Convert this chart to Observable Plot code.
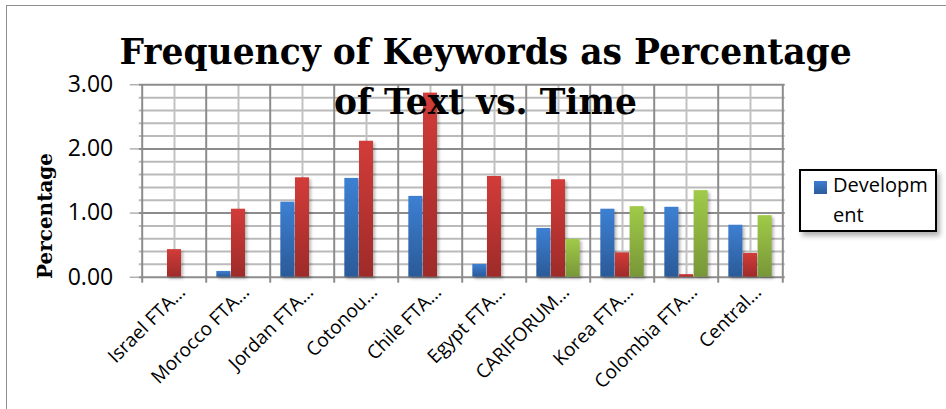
<!DOCTYPE html>
<html><head><meta charset="utf-8">
<script src="https://cdn.jsdelivr.net/npm/d3@7"></script>
<script src="https://cdn.jsdelivr.net/npm/@observablehq/plot@0.6"></script>
<style>
body{margin:0;background:#fff;}
#wrap{position:relative;width:946px;height:409px;overflow:hidden;background:#fff;}
#border{position:absolute;left:6px;top:5px;width:980px;height:440px;border:1.5px solid #8e8e8e;box-sizing:border-box;}
#chart{position:absolute;left:0;top:0;}
.title{position:absolute;left:0;width:971px;text-align:center;font-family:"DejaVu Serif";font-weight:bold;font-size:34.5px;white-space:nowrap;line-height:1;}
#legend{position:absolute;left:799px;top:169px;width:138px;height:63px;border:2px solid #000;box-sizing:border-box;background:#fff;box-shadow:3px 4px 5px rgba(0,0,0,0.3);}
#legend .sw{position:absolute;left:13px;top:10px;width:13px;height:13px;background:linear-gradient(#3c7dd0,#2c5c9c);}
#legend .lt{position:absolute;left:32px;top:-1px;width:100px;font-family:"Open Sans";font-size:20px;line-height:30px;word-break:break-all;color:#000;}
g[aria-label="bar"] rect{filter:drop-shadow(2px 2px 1.5px rgba(0,0,0,0.28));}
</style></head>
<body>
<svg width="0" height="0" style="position:absolute">
<defs>
<linearGradient id="gBlue" x1="0" y1="0" x2="0" y2="1"><stop offset="0" stop-color="#3d80d3"/><stop offset="1" stop-color="#2b5a98"/></linearGradient>
<linearGradient id="gRed" x1="0" y1="0" x2="0" y2="1"><stop offset="0" stop-color="#d23c39"/><stop offset="1" stop-color="#9e2b29"/></linearGradient>
<linearGradient id="gGreen" x1="0" y1="0" x2="0" y2="1"><stop offset="0" stop-color="#a0cb48"/><stop offset="1" stop-color="#789638"/></linearGradient>
</defs></svg>
<div id="wrap">
<div id="border"></div>
<div id="chart"></div>
<div class="title" style="top:35px">Frequency of Keywords as Percentage</div>
<div class="title" style="top:85px">of Text vs. Time</div>
<div id="legend"><div class="sw"></div><div class="lt" id="legtext"></div></div>
</div>
<script>
const categories = ["Israel FTA…","Morocco FTA…","Jordan FTA…","Cotonou…","Chile FTA…","Egypt FTA…","CARIFORUM…","Korea FTA…","Colombia FTA…","Central…"];
const seriesNames = ["Development","Series 2","Series 3"];
const development = [0, 0.09, 1.17, 1.54, 1.26, 0.20, 0.76, 1.06, 1.09, 0.81];
const series2 = [0.43, 1.06, 1.55, 2.12, 2.87, 1.57, 1.52, 0.38, 0.04, 0.37];
const series3 = [null, null, null, null, null, null, 0.59, 1.10, 1.35, 0.96];
const yTicks = [0, 1, 2, 3];
const yMinor = [0.2, 0.4, 0.6, 0.8, 1.2, 1.4, 1.6, 1.8, 2.2, 2.4, 2.6, 2.8];
const fills = ["url(#gBlue)", "url(#gRed)", "url(#gGreen)"];

const W = 946, H = 409;
const mL = 138.7, mR = 161.3, mT = 84.3, mB = 132.3;
const bw = (W - mL - mR) / categories.length;
const groupW = bw * 0.68;
const barW = groupW / 3;
const outer = (bw - groupW) / 2;

const allSeries = [development, series2, series3];
const barMarks = allSeries.map((vals, s) => {
  const rows = categories.map((c, i) => ({category: c, series: seriesNames[s], value: vals[i]})).filter(d => d.value != null);
  const left = outer + s * barW;
  return Plot.barY(rows, {x: "category", y: "value", fill: fills[s], insetLeft: left, insetRight: bw - left - barW});
});

document.getElementById("legtext").textContent = seriesNames[0];

const plot = Plot.plot({
  width: W, height: H,
  marginLeft: mL, marginRight: mR, marginTop: mT, marginBottom: mB,
  style: {fontFamily: "Open Sans", fontSize: "23px", color: "#000", background: "transparent", overflow: "visible"},
  x: {domain: categories, padding: 0, axis: null},
  y: {domain: [0, 3], axis: null},
  marks: [
    Plot.ruleY(yMinor, {stroke: "#bababa", strokeWidth: 2}),
    Plot.ruleX(categories, {stroke: "#c2c2c2", strokeWidth: 2}),
    Plot.ruleY([1, 2, 3], {stroke: "#8c8c8c", strokeWidth: 2}),
    Plot.ruleX(categories, {dx: -bw / 2, stroke: "#8c8c8c", strokeWidth: 2, insetBottom: -6}),
    Plot.ruleX([categories[categories.length - 1]], {dx: bw / 2, stroke: "#8c8c8c", strokeWidth: 2, insetBottom: -6}),
    Plot.ruleY([0], {stroke: "#8c8c8c", strokeWidth: 2}),
    ...barMarks,
    Plot.axisY({ticks: yTicks, tickFormat: d3.format(".2f"), tickSize: 9, tickPadding: 17, stroke: "#8c8c8c", fill: "#000", fontSize: 23, label: null}),
    Plot.text(categories, {x: d => d, frameAnchor: "bottom", dx: 12, dy: 16, rotate: -45, textAnchor: "end", fontSize: 19, fill: "#000"})
  ]
});
document.getElementById("chart").appendChild(plot);
d3.select(plot).append("text")
  .attr("transform", "translate(52,216) rotate(-90)")
  .attr("text-anchor", "middle")
  .style("font-family", "DejaVu Serif").style("font-weight", "bold").style("font-size", "20px")
  .attr("fill", "#000")
  .text("Percentage");
</script>
</body></html>
